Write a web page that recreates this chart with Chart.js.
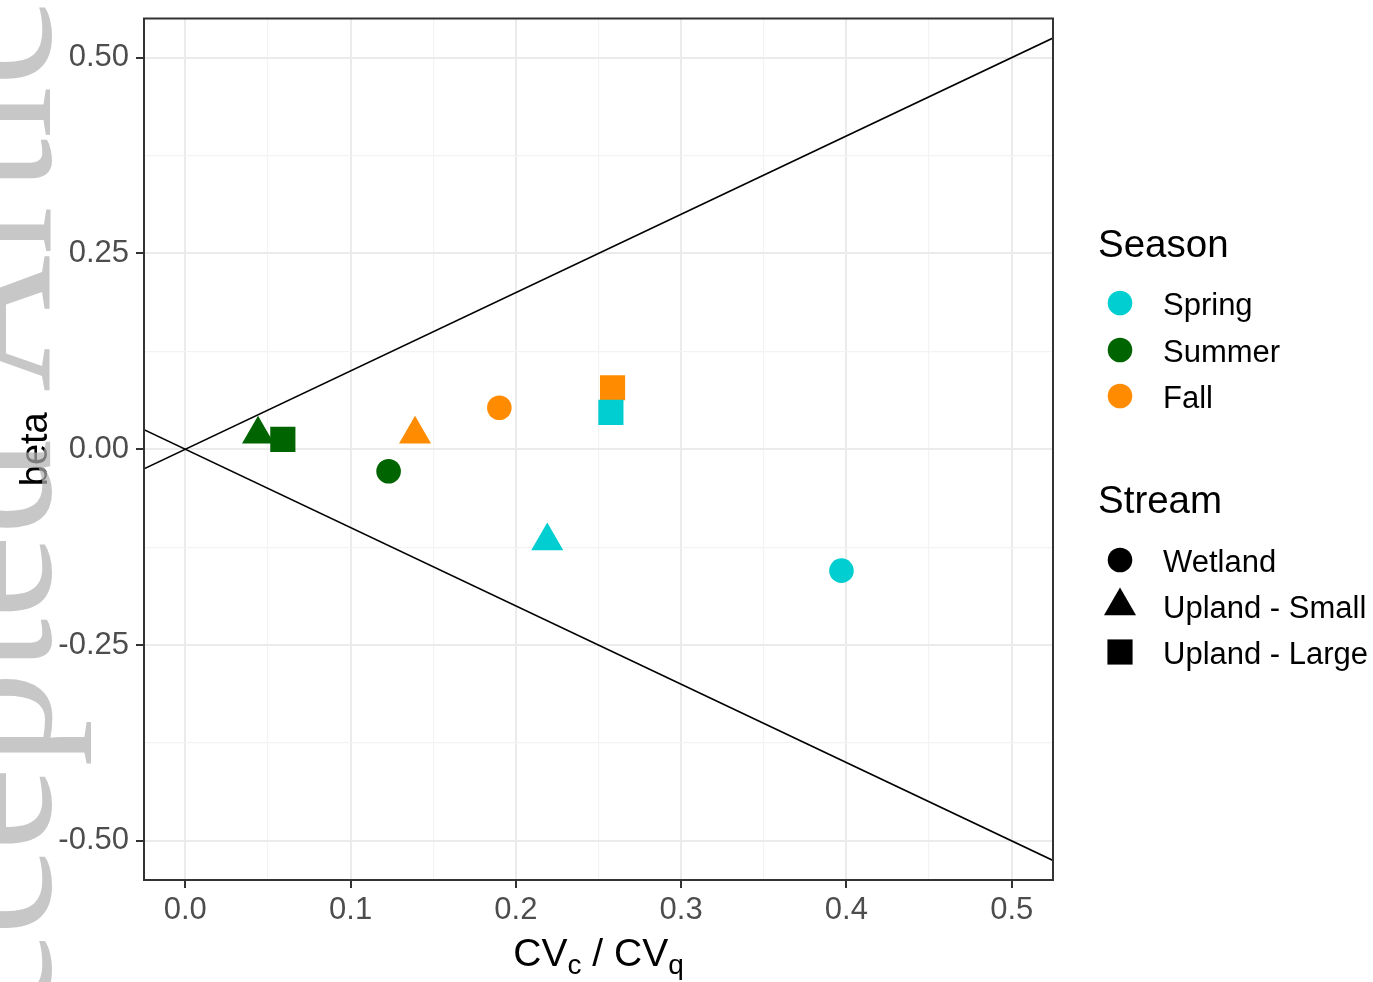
<!DOCTYPE html>
<html><head><meta charset="utf-8">
<script src="https://cdn.jsdelivr.net/npm/chart.js@4.4.0/dist/chart.umd.min.js"></script>
<style>html,body{margin:0;padding:0;background:#fff;overflow:hidden}#wrap{position:relative;width:1373px;height:982px}</style>
</head><body><div id="wrap"><canvas id="c" width="1373" height="982"></canvas></div>
<script>
// ---- data ----
const streams = ['Wetland', 'Upland - Small', 'Upland - Large'];
const seasons = ['Spring', 'Summer', 'Fall'];
const springCV   = [0.397, 0.219, 0.2575];
const springBeta = [-0.155, -0.117, 0.047];
const summerCV   = [0.123, 0.044, 0.059];
const summerBeta = [-0.028, 0.019, 0.0125];
const fallCV     = [0.190, 0.139, 0.2585];
const fallBeta   = [0.053, 0.019, 0.0785];
const ablineSlopes = [1, -1];
const xTickLabels = ['0.0', '0.1', '0.2', '0.3', '0.4', '0.5'];
const yTickLabels = ['-0.50', '-0.25', '0.00', '0.25', '0.50'];
const xLimits = [-0.025, 0.525];
const yLimits = [-0.55, 0.55];

// ---- styles ----
const seasonColors = ['#00CED1', '#006400', '#FF8C00'];
const streamStyles = ['circle', 'triangle', 'rect'];
const streamRadius = [12.3, 18.5, 17.8];
const FONT = "'Liberation Sans', Arial, sans-serif";

const xMajor = xTickLabels.map(parseFloat);
const yMajor = yTickLabels.map(parseFloat);
function withMinor(major) {
  const out = [];
  major.forEach((v, i) => { out.push(v); if (i < major.length - 1) out.push((v + major[i + 1]) / 2); });
  return out;
}
const isMajor = (arr, v) => arr.some(m => Math.abs(m - v) < 1e-9);
function labelFor(labels, v) {
  const l = labels.find(s => Math.abs(parseFloat(s) - v) < 1e-9);
  return l === undefined ? '' : l;
}

const cvs = [springCV, summerCV, fallCV];
const betas = [springBeta, summerBeta, fallBeta];

const datasets = seasons.map((s, k) => ({
  type: 'scatter',
  label: s,
  data: cvs[k].map((x, i) => ({ x: x, y: betas[k][i] })),
  pointStyle: streamStyles,
  pointRadius: streamRadius,
  pointHoverRadius: streamRadius,
  backgroundColor: seasonColors[k],
  borderColor: seasonColors[k],
  pointBorderWidth: 0,
  borderWidth: 0,
  order: 1
}));
ablineSlopes.forEach(sl => {
  datasets.push({
    type: 'line',
    label: 'abline ' + sl,
    data: xLimits.map(x => ({ x: x, y: sl * x })),
    borderColor: '#000',
    borderWidth: 1.6,
    pointRadius: 0,
    fill: false,
    order: 2
  });
});

function gridOpts(major) {
  return {
    drawOnChartArea: true,
    drawTicks: true,
    tickLength: 8,
    color: c => (c.tick && isMajor(major, c.tick.value)) ? '#ebebeb' : '#f3f3f3',
    lineWidth: c => (c.tick && isMajor(major, c.tick.value)) ? 2 : 1.2,
    tickColor: c => (c.tick && isMajor(major, c.tick.value)) ? '#333333' : 'rgba(0,0,0,0)',
    tickWidth: 2
  };
}

const overlay = {
  id: 'overlay',
  afterDraw(chart) {
    const ctx = chart.ctx, a = chart.chartArea;
    ctx.save();
    // panel border
    ctx.strokeStyle = '#333333';
    ctx.lineWidth = 2;
    ctx.strokeRect(a.left, a.top, a.right - a.left, a.bottom - a.top);

    // x title with subscripts
    const big = '39px ' + FONT, small = '28px ' + FONT;
    const parts = [['CV', big, 0], ['c', small, 8], [' / CV', big, 0], ['q', small, 8]];
    let total = 0;
    parts.forEach(p => { ctx.font = p[1]; total += ctx.measureText(p[0]).width; });
    let x = (a.left + a.right) / 2 - total / 2;
    ctx.fillStyle = '#000';
    ctx.textBaseline = 'alphabetic';
    ctx.textAlign = 'left';
    parts.forEach(p => { ctx.font = p[1]; ctx.fillText(p[0], x, 966 + p[2]); x += ctx.measureText(p[0]).width; });

    // y title
    ctx.save();
    ctx.translate(47, (a.top + a.bottom) / 2);
    ctx.rotate(-Math.PI / 2);
    ctx.font = '38px ' + FONT;
    ctx.textAlign = 'center';
    ctx.fillText('beta', 0, 0);
    ctx.restore();

    // legend
    const lx = 1098, keyX = 1120, txtX = 1163;
    ctx.textAlign = 'left';
    ctx.textBaseline = 'alphabetic';
    ctx.font = '38.5px ' + FONT;
    ctx.fillStyle = '#000';
    ctx.fillText('Season', lx, 257);
    ctx.fillText('Stream', lx, 513);
    const sy = [303, 350, 396];
    seasons.forEach((s, i) => {
      ctx.fillStyle = seasonColors[i];
      Chart.helpers.drawPoint(ctx, { pointStyle: 'circle', radius: 12.3, rotation: 0, borderWidth: 0 }, keyX, sy[i]);
      ctx.fillStyle = '#000';
      ctx.font = '31px ' + FONT;
      ctx.textBaseline = 'middle';
      ctx.fillText(s, txtX, sy[i] + 3);
    });
    const ty = [560, 606, 652];
    streams.forEach((s, i) => {
      ctx.fillStyle = '#000';
      ctx.strokeStyle = '#000';
      Chart.helpers.drawPoint(ctx, { pointStyle: streamStyles[i], radius: streamRadius[i], rotation: 0, borderWidth: 0 }, keyX, ty[i]);
      ctx.font = '31px ' + FONT;
      ctx.textBaseline = 'middle';
      ctx.fillText(s, txtX, ty[i] + 3);
    });

    // watermark
    ctx.save();
    ctx.font = "190px 'Liberation Serif', 'Times New Roman', serif";
    ctx.textBaseline = 'alphabetic';
    ctx.fillStyle = 'rgba(175,175,175,0.7)';
    const yStart = 392 + ctx.measureText('Accepted ').width;
    ctx.translate(50, yStart);
    ctx.rotate(-Math.PI / 2);
    ctx.fillText('Accepted Article', 0, 0);
    ctx.restore();

    ctx.restore();
  }
};

new Chart(document.getElementById('c'), {
  data: { datasets: datasets },
  options: {
    responsive: false,
    animation: false,
    layout: { padding: { left: 0, right: 320, top: 15, bottom: 0 } },
    plugins: { legend: { display: false }, tooltip: { enabled: false } },
    scales: {
      x: {
        type: 'linear',
        min: xLimits[0], max: xLimits[1],
        afterBuildTicks: s => { s.ticks = withMinor(xMajor).map(v => ({ value: v })); },
        afterFit: s => { s.height = 102; s.paddingLeft = 0; s.paddingRight = 0; },
        grid: gridOpts(xMajor),
        border: { display: false },
        ticks: {
          autoSkip: false, maxRotation: 0, padding: 4,
          color: '#4d4d4d',
          font: { family: FONT, size: 31 },
          callback: v => labelFor(xTickLabels, v)
        }
      },
      y: {
        type: 'linear',
        min: yLimits[0], max: yLimits[1],
        afterBuildTicks: s => { s.ticks = withMinor(yMajor).map(v => ({ value: v })); },
        afterFit: s => { s.width = 144; s.paddingTop = 0; s.paddingBottom = 0; },
        grid: gridOpts(yMajor),
        border: { display: false },
        ticks: {
          autoSkip: false, padding: 7,
          color: '#4d4d4d',
          font: { family: FONT, size: 31, lineHeight: 0.8 },
          callback: v => labelFor(yTickLabels, v)
        }
      }
    }
  },
  plugins: [overlay]
});
</script>
</body></html>
